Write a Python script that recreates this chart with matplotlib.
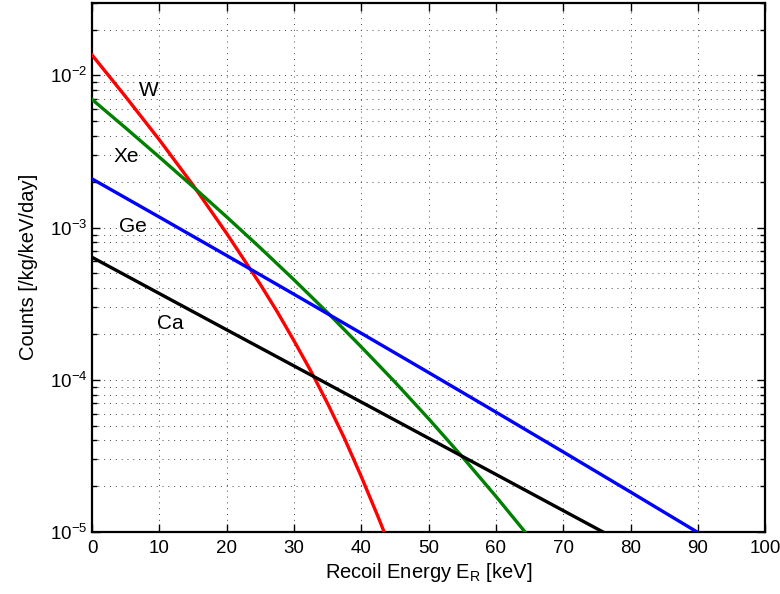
import matplotlib
matplotlib.use("Agg")
import matplotlib.pyplot as plt
from matplotlib.ticker import LogLocator, NullFormatter, MultipleLocator

plt.rcParams['font.family'] = ['Liberation Sans', 'DejaVu Sans']
plt.rcParams['mathtext.fontset'] = 'custom'
plt.rcParams['mathtext.rm'] = 'Liberation Sans'
plt.rcParams['mathtext.it'] = 'Liberation Sans:italic'
plt.rcParams['mathtext.default'] = 'regular'

# Data
w_x = [0, 5, 10, 15, 20, 25, 27.5, 30, 32.5, 35, 37.5, 40, 42.5, 44]
w_y = [1.361e-2, 7.23e-3, 3.77e-3, 1.901e-3, 9.15e-4, 4.23e-4, 2.804e-4,
       1.805e-4, 1.142e-4, 6.98e-5, 4.12e-5, 2.31e-5, 1.256e-5, 8.56e-6]

xe_x = [0, 5, 10, 15, 20, 25, 30, 35, 40, 45, 50, 55, 60, 65]
xe_y = [6.95e-3, 4.51e-3, 2.904e-3, 1.856e-3, 1.175e-3, 7.355e-4, 4.54e-4,
        2.757e-4, 1.644e-4, 9.66e-5, 5.55e-5, 3.12e-5, 1.714e-5, 9.2e-6]

ge_x = [0, 10, 20, 30, 40, 50, 60, 70, 80, 90, 91]
ge_y = [2.089e-3, 1.172e-3, 6.553e-4, 3.647e-4, 2.021e-4, 1.116e-4, 6.133e-5,
        3.357e-5, 1.830e-5, 9.93e-6, 9.34e-6]

ca_x = [0, 20, 40, 60, 76, 77]
ca_y = [6.38e-4, 2.13e-4, 7.14e-5, 2.39e-5, 9.95e-6, 9.4e-6]

labels = ['W', 'Xe', 'Ge', 'Ca']
label_x = [8.4, 5.1, 6.1, 11.6]
label_y = [7.9e-3, 2.94e-3, 1.01e-3, 2.36e-4]

fig = plt.figure(figsize=(7.8, 5.94), dpi=100)
ax = fig.add_axes([0.118, 0.1044, 0.863, 0.891])

ax.plot(w_x, w_y, color='#ff0000', lw=2.4, zorder=3)
ax.plot(xe_x, xe_y, color='#008000', lw=2.4, zorder=3)
ax.plot(ge_x, ge_y, color='#0000ff', lw=2.4, zorder=3)
ax.plot(ca_x, ca_y, color='black', lw=2.4, zorder=3)

for t, lx, ly in zip(labels, label_x, label_y):
    ax.text(lx, ly, t, fontsize=15, ha='center', va='center')

ax.set_yscale('log')
ax.set_xlim(0, 100)
ax.set_ylim(1e-5, 3e-2)
ax.xaxis.set_major_locator(MultipleLocator(10))
ax.yaxis.set_major_locator(LogLocator(base=10, numticks=10))
ax.yaxis.set_minor_locator(LogLocator(base=10, subs=range(2, 10), numticks=20))
ax.yaxis.set_minor_formatter(NullFormatter())

ax.grid(True, which='major', axis='both', linestyle=(0, (1, 5)), color='#444444', lw=0.7)
ax.grid(True, which='minor', axis='y', linestyle=(0, (1, 5)), color='#444444', lw=0.7)

ax.tick_params(which='both', direction='in', top=True, right=True, labelsize=13.5)
ax.tick_params(which='major', length=6, width=1.0)
ax.tick_params(axis='x', which='major', pad=6)
ax.tick_params(which='minor', length=3.5, width=1.0)
for s in ax.spines.values():
    s.set_linewidth(1.6)

ax.set_xlabel(r'Recoil Energy E$_\mathregular{R}$ [keV]', fontsize=14.5, labelpad=3)
ax.set_ylabel('Counts [/kg/keV/day]', fontsize=14.5, labelpad=8)

fig.savefig('out.png', dpi=100)
